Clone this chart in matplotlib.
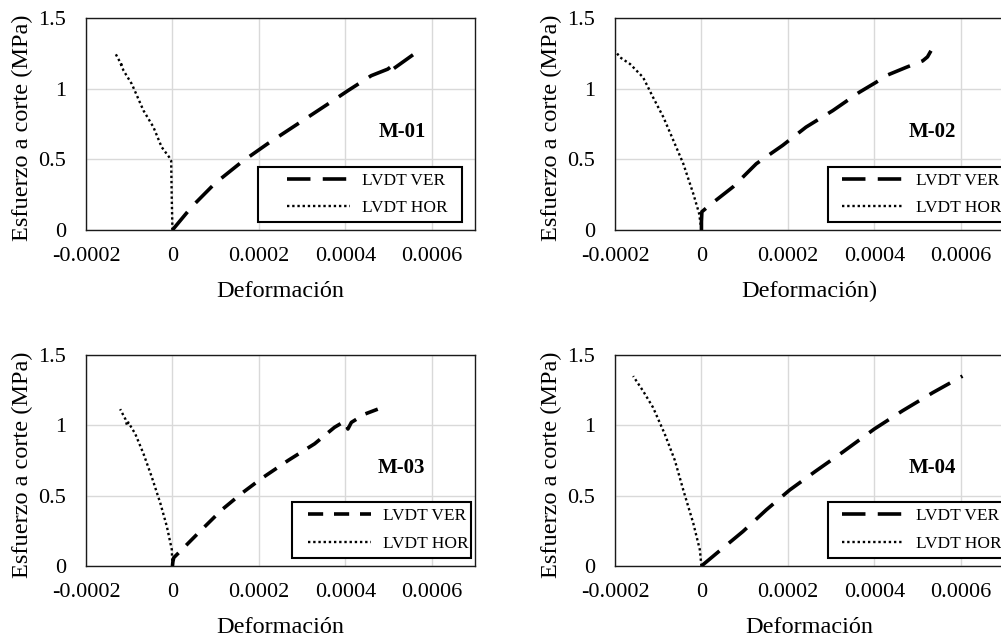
import matplotlib
matplotlib.use("Agg")
import matplotlib.pyplot as plt
from matplotlib.patches import Rectangle

plt.rcParams['font.family'] = ['Liberation Serif', 'DejaVu Serif']

# ---------------- data ----------------
titles = ["M-01", "M-02", "M-03", "M-04"]
xlabels = ["Deformación", "Deformación)", "Deformación", "Deformación"]
ylabel = "Esfuerzo a corte (MPa)"
legend_labels = ["LVDT VER", "LVDT HOR"]
xticks = [-0.0002, 0, 0.0002, 0.0004, 0.0006]
xtick_labels = ["-0.0002", "0", "0.0002", "0.0004", "0.0006"]
yticks = [0, 0.5, 1, 1.5]
ytick_labels = ["0", "0.5", "1", "1.5"]

ver01_x = [0, 0.0000446, 0.000098, 0.00016, 0.00022, 0.00029, 0.00036, 0.000406,
           0.00046, 0.000498, 0.000514, 0.00051, 0.000537, 0.000564]
ver01_y = [0, 0.164, 0.329, 0.481, 0.61, 0.751, 0.892, 0.986,
           1.092, 1.138, 1.174, 1.138, 1.197, 1.256]
hor01_x = [0, -0.0000015, -0.000003, -0.0000077, -0.000025, -0.000044, -0.000067,
           -0.000094, -0.000113, -0.000121, -0.000118, -0.000132]
hor01_y = [0, 0.21, 0.49, 0.516, 0.587, 0.728, 0.845,
           1.033, 1.127, 1.185, 1.17, 1.249]

ver02_x = [0, 0, 0.000001, 0.0000192, 0.000073, 0.000127, 0.000188, 0.000242, 0.000304,
           0.000365, 0.000404, 0.000427, 0.000473, 0.000512, 0.000523, 0.000531]
ver02_y = [0, 0.06, 0.129, 0.176, 0.305, 0.469, 0.599, 0.728, 0.845,
           0.974, 1.045, 1.092, 1.15, 1.197, 1.225, 1.268]
hor02_x = [0, -0.0000054, -0.000019, -0.000042, -0.000065, -0.000088, -0.000112,
           -0.000135, -0.000165, -0.000188, -0.0002]
hor02_y = [0, 0.117, 0.258, 0.469, 0.634, 0.798, 0.939,
           1.08, 1.174, 1.221, 1.268]

ver03_x = [0, 0.000001, 0.000003, 0.000022, 0.00006, 0.000114, 0.00016, 0.000206,
           0.000268, 0.000329, 0.000375, 0.000398, 0.000406, 0.000414, 0.000445, 0.000475]
ver03_y = [0, 0.03, 0.059, 0.117, 0.235, 0.399, 0.516, 0.622,
           0.751, 0.869, 0.986, 1.028, 0.974, 1.021, 1.08, 1.115]
hor03_x = [0, -0.0000015, -0.000013, -0.000028, -0.000048, -0.000067, -0.000086,
           -0.000102, -0.000105, -0.000109, -0.000121]
hor03_y = [0, 0.117, 0.282, 0.446, 0.634, 0.798, 0.939,
           1.021, 0.998, 1.045, 1.115]

ver04_x = [0, 0.0000346, 0.0000962, 0.00015, 0.000204, 0.000265, 0.000327,
           0.0004, 0.000465, 0.000535, 0.000604]
ver04_y = [0, 0.089, 0.246, 0.399, 0.540, 0.676, 0.810,
           0.974, 1.103, 1.232, 1.350]
hor04_x = [0, -0.0000038, -0.000019, -0.000042, -0.0000615, -0.000085, -0.000112,
           -0.000135, -0.000158]
hor04_y = [0, 0.117, 0.305, 0.54, 0.751, 0.939, 1.127,
           1.244, 1.35]

ver_x = [ver01_x, ver02_x, ver03_x, ver04_x]
ver_y = [ver01_y, ver02_y, ver03_y, ver04_y]
hor_x = [hor01_x, hor02_x, hor03_x, hor04_x]
hor_y = [hor01_y, hor02_y, hor03_y, hor04_y]

# ---------------- layout ----------------
W, H = 1001, 638
fig = plt.figure(figsize=(W / 100, H / 100), dpi=100)
fig.patch.set_facecolor("white")

# axes rectangles in pixels: left, top, right, bottom
px_boxes = [(86, 18, 475, 230), (615, 18, 1004, 230),
            (86, 355, 475, 566), (615, 355, 1004, 566)]
legend_boxes = [(0.442, 0.038, 0.525, 0.259), (0.548, 0.038, 0.525, 0.259),
                (0.530, 0.038, 0.460, 0.265), (0.548, 0.038, 0.460, 0.265)]
legend_anchor_x = [0.517, 0.583, 0.571, 0.583]
label_pos = [(0.812, 0.462), (0.815, 0.462), (0.812, 0.464), (0.815, 0.464)]
dash_styles = [(0, (6.5, 3.4)), (0, (6.5, 3.4)), (0, (4.2, 3.0)), (0, (6.5, 3.4))]

for i in range(4):
    l, t, r, b = px_boxes[i]
    ax = fig.add_axes([l / W, (H - b) / H, (r - l) / W, (b - t) / H])
    ax.set_xlim(-0.0002, 0.0007)
    ax.set_ylim(0, 1.5)
    ax.set_xticks(xticks)
    ax.set_xticklabels(xtick_labels)
    ax.set_yticks(yticks)
    ax.set_yticklabels(ytick_labels)
    ax.tick_params(length=0, labelsize=16, colors="black")
    ax.tick_params(axis="x", pad=12)
    ax.tick_params(axis="y", pad=14.5)
    ax.grid(True, color="#d9d9d9", linewidth=1.0)
    ax.set_axisbelow(True)
    for s in ax.spines.values():
        s.set_color("#1a1a1a")
        s.set_linewidth(1.0)

    lv, = ax.plot(ver_x[i], ver_y[i], color="black", linewidth=2.6,
                  linestyle=dash_styles[i], dash_capstyle="butt", zorder=3)
    lh, = ax.plot(hor_x[i], hor_y[i], color="black", linewidth=1.7,
                  linestyle=(0, (1.0, 1.2)), zorder=3)

    ax.set_xlabel(xlabels[i], fontsize=17.5)
    ax.set_ylabel(ylabel, fontsize=17.5)
    ax.xaxis.set_label_coords(0.5, -0.24)
    ax.yaxis.set_label_coords(-0.135, 0.48)

    ax.text(label_pos[i][0], label_pos[i][1], titles[i], transform=ax.transAxes,
            ha="center", va="center", fontsize=15, fontweight="bold")

    lx, ly, lw_, lh_ = legend_boxes[i]
    ax.add_patch(Rectangle((lx, ly), lw_, lh_, transform=ax.transAxes,
                           facecolor="white", edgecolor="black", linewidth=1.5,
                           clip_on=False, zorder=4))
    leg = ax.legend([lv, lh], legend_labels, loc="center left",
                    bbox_to_anchor=(legend_anchor_x[i], ly + lh_ / 2),
                    frameon=False, fontsize=12.5, borderpad=0, borderaxespad=0,
                    handlelength=3.6, handletextpad=0.7, labelspacing=0.65)
    leg.set_zorder(5)

fig.savefig("out.png", dpi=100)
